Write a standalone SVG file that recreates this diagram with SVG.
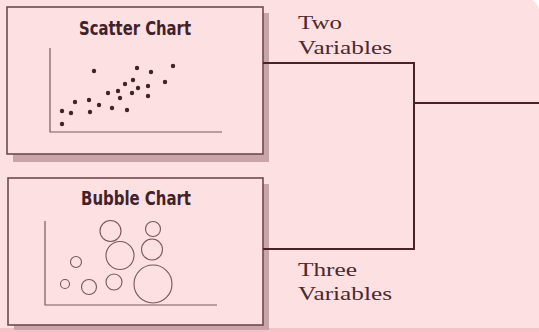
<svg xmlns="http://www.w3.org/2000/svg" width="539" height="332" viewBox="0 0 539 332">
<style>
.bg{fill:#fde0e2}
.box{fill:#fde0e2;stroke:#6e4a4f;stroke-width:1.6}
.shadow{fill:#c9a4a8}
.title{font-family:"DejaVu Sans Condensed","DejaVu Sans",sans-serif;font-weight:bold;font-size:19px;fill:#42222a}
.lbl{font-family:"Liberation Serif","DejaVu Serif",serif;font-size:18px;fill:#4b2a2f}
.axis{stroke:#7a5a5e;stroke-width:1.2;fill:none}
.dot{fill:#3f2327}
.bub{fill:none;stroke:#7a5458;stroke-width:1.1}
.conn{stroke:#4b2226;stroke-width:2;fill:none}
</style>
<rect class="bg" x="0" y="0" width="539" height="332"/>
<path d="M532,0 L539,0 L539,9 Q537,3 532,0 Z" fill="#ffffff"/>
<rect x="0" y="328" width="539" height="4" fill="#f5c3c7"/>

<g id="scatter-chart">
<rect class="shadow" x="13" y="13" width="256" height="149"/>
<rect class="box" x="7" y="7" width="256" height="147"/>
<text class="title" x="135" y="35" text-anchor="middle" textLength="112" lengthAdjust="spacingAndGlyphs">Scatter Chart</text>
<path class="axis" d="M50,48 V132 H222"/>
<g class="dot">
<circle cx="94" cy="71" r="2.2"/><circle cx="137" cy="68" r="2.2"/><circle cx="151" cy="72" r="2.2"/><circle cx="173" cy="66" r="2.2"/>
<circle cx="133" cy="80" r="2.2"/><circle cx="125" cy="84" r="2.2"/><circle cx="165" cy="82" r="2.2"/><circle cx="118" cy="91" r="2.2"/>
<circle cx="108" cy="93" r="2.2"/><circle cx="138" cy="88" r="2.2"/><circle cx="148" cy="86" r="2.2"/><circle cx="132" cy="93" r="2.2"/>
<circle cx="120" cy="98" r="2.2"/><circle cx="148" cy="96" r="2.2"/><circle cx="75" cy="102" r="2.2"/><circle cx="89" cy="100" r="2.2"/>
<circle cx="99" cy="105" r="2.2"/><circle cx="112" cy="108" r="2.2"/><circle cx="127" cy="110" r="2.2"/><circle cx="62" cy="111" r="2.2"/>
<circle cx="71" cy="113" r="2.2"/><circle cx="90" cy="112" r="2.2"/><circle cx="62" cy="124" r="2.2"/>
</g>
</g>

<g id="bubble-chart">
<rect class="shadow" x="14" y="184" width="255" height="146"/>
<rect class="box" x="8" y="178" width="255" height="147"/>
<text class="title" x="136" y="205" text-anchor="middle" textLength="110" lengthAdjust="spacingAndGlyphs">Bubble Chart</text>
<path class="axis" d="M45,221 V305 H217"/>
<g class="bub">
<circle cx="110.5" cy="231" r="10.5"/>
<circle cx="153" cy="229" r="7.5"/>
<circle cx="120" cy="255.5" r="14"/>
<circle cx="152" cy="249.5" r="10.5"/>
<circle cx="76" cy="262" r="5.5"/>
<circle cx="65" cy="284" r="4.5"/>
<circle cx="89" cy="287" r="7.5"/>
<circle cx="114" cy="282" r="8"/>
<circle cx="153" cy="284" r="19"/>
</g>
</g>

<g id="connectors">
<path class="conn" d="M263,63 H414 V249 H263"/>
<path class="conn" d="M414,103 H539"/>
</g>

<g id="label-two">
<text class="lbl" x="298" y="29" textLength="44" lengthAdjust="spacingAndGlyphs">Two</text>
<text class="lbl" x="298" y="54" textLength="94" lengthAdjust="spacingAndGlyphs">Variables</text>
</g>
<g id="label-three">
<text class="lbl" x="298" y="276" textLength="59" lengthAdjust="spacingAndGlyphs">Three</text>
<text class="lbl" x="298" y="300" textLength="94" lengthAdjust="spacingAndGlyphs">Variables</text>
</g>
</svg>
